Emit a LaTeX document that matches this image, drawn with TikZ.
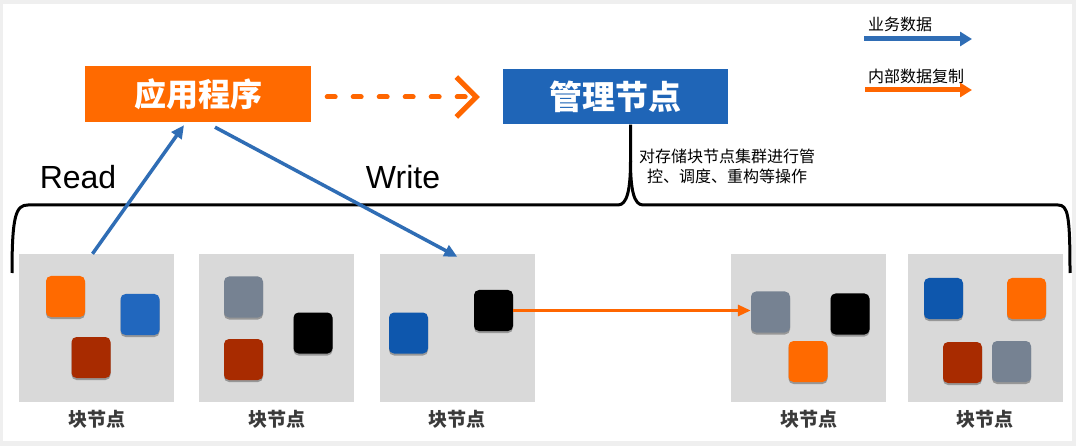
\documentclass[tikz,border=0pt]{standalone}
\usepackage{fontspec}
\setmainfont{Liberation Sans}
\newfontfamily\cjk{Noto Sans CJK SC}
\usepackage{tikz}
\usetikzlibrary{arrows.meta, positioning, shadows}
\definecolor{framegray}{HTML}{EFEFEF}
\definecolor{appor}{HTML}{FF6A00}
\definecolor{mgmtblue}{HTML}{1F65B7}
\definecolor{datablue}{HTML}{2F6DB5}
\definecolor{repor}{HTML}{FF6600}
\definecolor{panelgray}{HTML}{D9D9D9}
\definecolor{labelgray}{HTML}{3A3A3A}
\definecolor{chipor}{HTML}{FF6A00}
\definecolor{chipblue}{HTML}{2167BE}
\definecolor{chipnavy}{HTML}{0E57AD}
\definecolor{chipred}{HTML}{A82B00}
\definecolor{chipgray}{HTML}{768292}
\tikzstyle{appbox} = [rectangle, fill=appor, text=white,
  font=\cjk\bfseries\fontsize{32}{32}\selectfont,
  minimum width=226pt, minimum height=56pt, inner sep=0pt]
\tikzstyle{mgmtbox} = [rectangle, fill=mgmtblue, text=white,
  font=\cjk\bfseries\fontsize{33}{33}\selectfont,
  minimum width=225pt, minimum height=55pt, inner sep=0pt]
\tikzstyle{panel} = [rectangle, fill=panelgray,
  minimum width=155pt, minimum height=148pt, inner sep=0pt]
\tikzstyle{chip} = [rectangle, rounded corners=5pt,
  minimum width=39pt, minimum height=41pt, inner sep=0pt,
  drop shadow={shadow xshift=0pt, shadow yshift=-2pt, opacity=0.3, fill=black}]
\tikzstyle{caption} = [font=\cjk\bfseries\fontsize{19}{19}\selectfont,
  text=labelgray, inner sep=0pt]
\tikzstyle{note} = [font=\cjk\fontsize{16}{20}\selectfont, align=center, inner sep=0pt]
\tikzstyle{legend} = [font=\cjk\fontsize{16}{16}\selectfont, inner sep=0pt, anchor=west]
\tikzstyle{rw} = [font=\fontsize{32}{32}\selectfont, inner sep=0pt, anchor=base]
\tikzstyle{dataarrow} = [-{Triangle[length=13pt,width=12pt]}, color=datablue, line width=3.5pt]
\tikzstyle{reparrow} = [-{Triangle[length=13pt,width=11pt]}, color=repor, line width=3pt]
\tikzstyle{dasharrow} = [-{Straight Barb[length=20pt,width=40pt]}, color=repor,
  line width=5pt, line cap=round, dash pattern=on 8pt off 18pt]
\tikzstyle{brace} = [line width=3pt, color=black, line join=round]

\begin{document}
\begin{tikzpicture}[x=1pt, y=-1pt]

  % frame
  \fill[framegray] (0,0) rectangle (1076,446);
  \fill[white] (3,4) rectangle (1072,441);
  \useasboundingbox (0,0) rectangle (1076,446);

  \node[appbox] (app) at (198,94) {应用程序};
  \node[mgmtbox] (mgmt) at (615.5,97) {管理节点};

  % block nodes
  \node[panel] (pn1) at (96.5,328) {};
  \node[panel, right=25pt of pn1] (pn2) {};
  \node[panel, right=25pt of pn2] (pn3) {};
  \node[panel, right=196pt of pn3] (pn4) {};
  \node[panel, right=21pt of pn4] (pn5) {};

  \node[caption, below=8pt of pn1] (cap1) {块节点};
  \node[caption, below=8pt of pn2] (cap2) {块节点};
  \node[caption, below=8pt of pn3] (cap3) {块节点};
  \node[caption, below=8pt of pn4] (cap4) {块节点};
  \node[caption, below=8pt of pn5] (cap5) {块节点};

  % data chips
  \node[chip, fill=chipor]   (c1a) at (65.5,296.5) {};
  \node[chip, fill=chipblue] (c1b) at (140,314.5) {};
  \node[chip, fill=chipred]  (c1c) at (91,357.5) {};

  \node[chip, fill=chipgray] (c2a) at (243.5,297) {};
  \node[chip, fill=black]    (c2b) at (313,333) {};
  \node[chip, fill=chipred]  (c2c) at (243.5,359.5) {};

  \node[chip, fill=chipnavy] (c3a) at (408.5,333) {};
  \node[chip, fill=black]    (c3b) at (493.5,310.5) {};

  \node[chip, fill=chipgray] (c4a) at (770.5,312) {};
  \node[chip, fill=black]    (c4b) at (850,314) {};
  \node[chip, fill=chipor]   (c4c) at (808,361.5) {};

  \node[chip, fill=chipnavy] (c5a) at (943.5,298.5) {};
  \node[chip, fill=chipor]   (c5b) at (1026.5,298.5) {};
  \node[chip, fill=chipred]  (c5c) at (962.5,362.5) {};
  \node[chip, fill=chipgray] (c5d) at (1011.5,361.5) {};

  % brace under the management node
  \coordinate (stem) at ([xshift=15pt]mgmt.south);
  \coordinate (peak) at (630.5,161);
  \coordinate (bl) at (12,273);
  \coordinate (br) at (1070,273);
  \draw[brace] (bl) .. controls (12,215) and (16,205) .. (28,205) -- (618,205)
    .. controls (627,205) and (630.5,190) .. (peak) -- (stem);
  \draw[brace] (peak) .. controls (630.5,190) and (634,205) .. (643,205) -- (1058,205)
    .. controls (1068,205) and (1070,215) .. (br);

  \node[note] (ctl) at (727,166) {对存储块节点集群进行管\\控、调度、重构等操作};

  \node[rw] (rd) at (78,189) {Read};
  \node[rw] (wr) at (403,189) {Write};

  % Main flow
  \draw[dasharrow, shorten <=16pt, shorten >=23pt] (app.east |- mgmt.west) -- (mgmt.west);
  \draw[dataarrow] ([xshift=-4pt]pn1.north) -- ([xshift=-14pt,yshift=-3pt]app.south);
  \draw[dataarrow] ([xshift=17pt,yshift=-5pt]app.south) -- ([yshift=-3pt]pn3.north);
  \draw[reparrow] (c3b.east) -- (c3b.east -| c4a.west);

  % legend
  \node[legend] (lg1) at (868,24) {业务数据};
  \node[legend] (lg2) at (868,76) {内部数据复制};
  \coordinate (la1) at (864,39);
  \coordinate (lb1) at (972,39);
  \coordinate (la2) at (865,90);
  \coordinate (lb2) at (972,90);
  \draw[-{Triangle[length=12pt,width=14pt]}, color=datablue, line width=5pt] (la1) -- (lb1);
  \draw[-{Triangle[length=12pt,width=14pt]}, color=repor, line width=5pt] (la2) -- (lb2);

\end{tikzpicture}
\end{document}
